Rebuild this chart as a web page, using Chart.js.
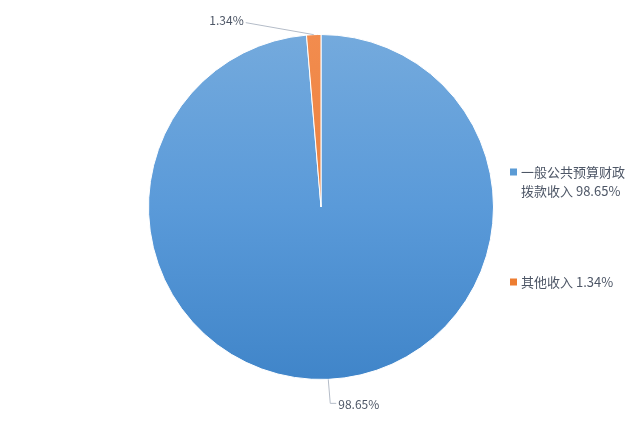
<!DOCTYPE html>
<html>
<head>
<meta charset="utf-8">
<script src="https://cdn.jsdelivr.net/npm/chart.js@4.4.0/dist/chart.umd.min.js"></script>
<style>
  html, body { margin: 0; padding: 0; background: #fff; }
  #wrap { width: 642px; height: 445px; }
</style>
</head>
<body>
<div id="wrap"><canvas id="pieChart" width="642" height="445"></canvas></div>
<script>
  // data
  const categories = ['一般公共预算财政拨款收入', '其他收入'];
  const values = [98.65, 1.34];
  const legendLines = [['一般公共预算财政', '拨款收入 98.65%'], ['其他收入 1.34%']];
  const pctLabels = ['98.65%', '1.34%'];

  const textColor = '#4d5666';
  const font = "'Noto Sans CJK SC', 'Noto Sans', sans-serif";

  function sliceFill(context) {
    const chart = context.chart;
    const area = chart.chartArea;
    if (!area) return '#5b9bd5';
    const g = chart.ctx.createLinearGradient(0, area.top, 0, area.bottom);
    if (context.dataIndex === 0) {
      g.addColorStop(0, '#74aadd');
      g.addColorStop(0.5, '#5a9ad9');
      g.addColorStop(1, '#4085c9');
    } else {
      g.addColorStop(0, '#f28c4e');
      g.addColorStop(1, '#e8772f');
    }
    return g;
  }

  // leader lines + percent labels
  const labelPlugin = {
    id: 'pctLabels',
    afterDatasetsDraw(chart) {
      const c = chart.ctx;
      const meta = chart.getDatasetMeta(0);
      c.save();
      c.font = '12px ' + font;
      c.fillStyle = textColor;
      c.strokeStyle = '#b4bcc8';
      c.lineWidth = 1;
      meta.data.forEach((arc, i) => {
        const p = arc.getProps(['x', 'y', 'startAngle', 'endAngle', 'outerRadius']);
        const mid = (p.startAngle + p.endAngle) / 2;
        const ox = p.x + Math.cos(mid) * p.outerRadius;
        const oy = p.y + Math.sin(mid) * p.outerRadius;
        c.beginPath();
        if (i === 0) {
          c.moveTo(ox, oy);
          c.lineTo(ox + 2, oy + 24);
          c.lineTo(ox + 8, oy + 24);
          c.stroke();
          c.textAlign = 'left';
          c.textBaseline = 'middle';
          c.fillText(pctLabels[i], ox + 10, oy + 25);
        } else {
          c.moveTo(ox, oy);
          c.lineTo(ox - 68, oy - 12);
          c.stroke();
          c.textAlign = 'right';
          c.textBaseline = 'middle';
          c.fillText(pctLabels[i], ox - 70, oy - 14);
        }
      });
      c.restore();
    }
  };

  // legend on the right
  const legendPlugin = {
    id: 'sideLegend',
    afterDraw(chart) {
      const c = chart.ctx;
      const colors = ['#5b9bd5', '#ed7d31'];
      const ys = [172, 282];
      c.save();
      c.font = '13px ' + font;
      c.fillStyle = textColor;
      c.textBaseline = 'middle';
      legendLines.forEach((lines, i) => {
        c.fillStyle = colors[i];
        c.fillRect(510, ys[i] - 3.5, 7, 7);
        c.fillStyle = textColor;
        lines.forEach((t, k) => c.fillText(t, 521, ys[i] + k * 19));
      });
      c.restore();
    }
  };

  new Chart(document.getElementById('pieChart'), {
    type: 'pie',
    data: {
      labels: categories,
      datasets: [{
        data: values,
        backgroundColor: sliceFill,
        borderColor: '#ffffff',
        borderWidth: 1
      }]
    },
    options: {
      responsive: false,
      animation: false,
      layout: { padding: { top: 34, bottom: 65, left: 0, right: 0 } },
      plugins: { legend: { display: false }, tooltip: { enabled: false } }
    },
    plugins: [labelPlugin, legendPlugin]
  });
</script>
</body>
</html>
